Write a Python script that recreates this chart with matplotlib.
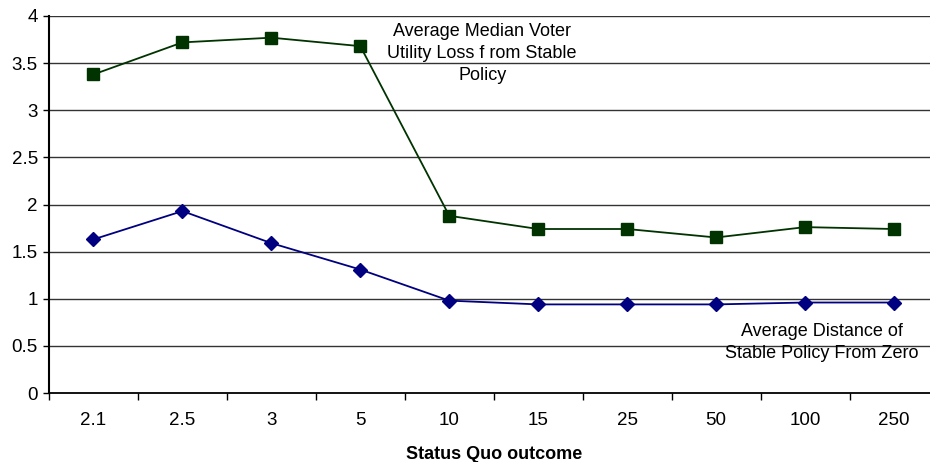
import matplotlib
matplotlib.use('Agg')
import matplotlib.pyplot as plt

categories = ['2.1', '2.5', '3', '5', '10', '15', '25', '50', '100', '250']
utility_loss = [3.38, 3.72, 3.77, 3.68, 1.88, 1.74, 1.74, 1.65, 1.76, 1.74]
distance = [1.63, 1.93, 1.59, 1.31, 0.98, 0.94, 0.94, 0.94, 0.96, 0.96]
y_ticks = [0, 0.5, 1, 1.5, 2, 2.5, 3, 3.5, 4]

plt.rcParams['font.family'] = ['Liberation Sans', 'DejaVu Sans']

fig = plt.figure(figsize=(9.3, 4.62), dpi=100)
ax = fig.add_axes([49 / 930, 1 - 393 / 462, 889.5 / 930, 377 / 462])

x = list(range(len(categories)))
ax.plot(x, utility_loss, color='#003300', lw=1.3, marker='s', markersize=9,
        markerfacecolor='#003300', markeredgecolor='#003300', zorder=3)
ax.plot(x, distance, color='#000080', lw=1.3, marker='D', markersize=7,
        markerfacecolor='#000080', markeredgecolor='#000080', zorder=3)

ax.set_xlim(-0.5, len(categories) - 0.5)
ax.set_ylim(0, 4)
ax.set_yticks(y_ticks)
ax.set_yticklabels(['0', '0.5', '1', '1.5', '2', '2.5', '3', '3.5', '4'], fontsize=13.5)
ax.set_xticks(x)
ax.set_xticklabels(categories, fontsize=13.5)
ax.tick_params(axis='x', length=0, pad=14)
ax.set_xticks([i - 0.5 for i in range(len(categories) + 1)], minor=True)
ax.tick_params(axis='x', which='minor', length=5, width=1, direction='out', color='black')
ax.tick_params(axis='y', length=4, width=1, direction='out', pad=4)

for v in y_ticks[1:]:
    ax.axhline(v, color='#333333', lw=1, zorder=1)

for s in ['top', 'right']:
    ax.spines[s].set_visible(False)
ax.spines['left'].set_linewidth(1.5)
ax.spines['bottom'].set_linewidth(1.3)

ax.text(4.37, 3.60, 'Average Median Voter\nUtility Loss f rom Stable\nPolicy', ha='center', va='center',
        fontsize=13, linespacing=1.4)
ax.text(8.19, 0.54, 'Average Distance of\nStable Policy From Zero', ha='center', va='center',
        fontsize=13, linespacing=1.4)

ax.set_xlabel('Status Quo outcome', fontsize=13, fontweight='bold', labelpad=12)

fig.savefig('out.png', dpi=100)
